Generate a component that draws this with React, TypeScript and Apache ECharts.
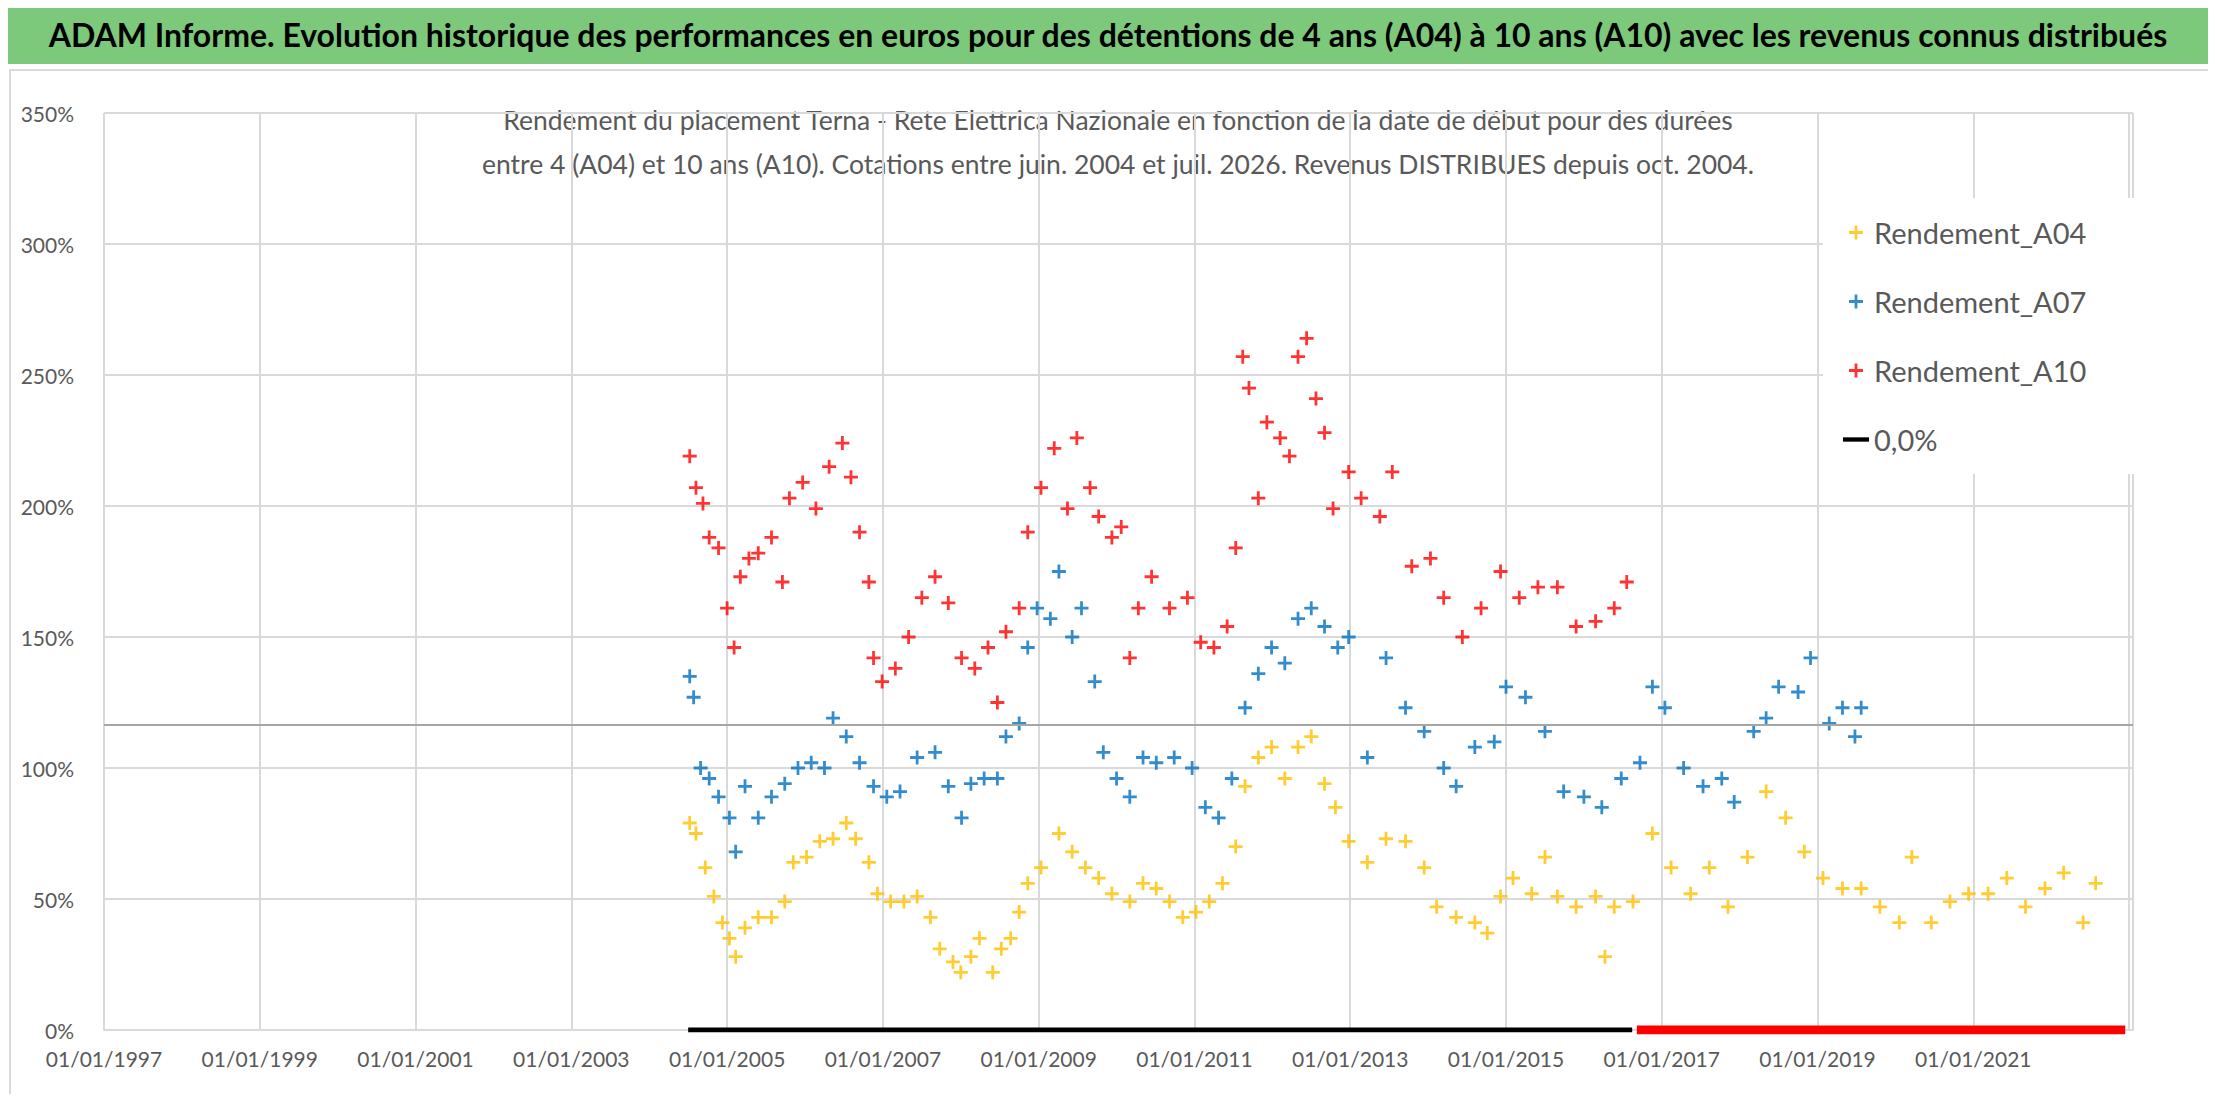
import React, { useEffect, useRef } from "react";
import * as echarts from "echarts";

const TITLE = "ADAM Informe. Evolution historique des performances en euros pour des détentions de 4 ans (A04) à 10 ans (A10) avec les revenus connus distribués";
const SUBTITLE = "Rendement du placement Terna - Rete Elettrica Nazionale en fonction de la date de début pour des durées\nentre 4 (A04) et 10 ans (A10). Cotations entre juin. 2004 et juil. 2026. Revenus DISTRIBUES depuis oct. 2004.";
const yTicks = [0, 50, 100, 150, 200, 250, 300, 350];
const xLabelYears = [1997, 1999, 2001, 2003, 2005, 2007, 2009, 2011, 2013, 2015, 2017, 2019, 2021];
const refLevel = 116.5;

const a04Dates = [2004.52,2004.6,2004.72,2004.83,2004.94,2005.03,2005.11,2005.23,2005.4,2005.57,2005.74,2005.85,2006.02,2006.19,2006.36,2006.53,2006.65,2006.82,2006.93,2007.1,2007.27,2007.44,2007.61,2007.73,2007.9,2008.0,2008.13,2008.24,2008.41,2008.52,2008.64,2008.75,2008.86,2009.03,2009.26,2009.43,2009.6,2009.77,2009.94,2010.17,2010.34,2010.51,2010.68,2010.85,2011.02,2011.19,2011.36,2011.53,2011.65,2011.82,2011.99,2012.16,2012.33,2012.5,2012.67,2012.81,2012.98,2013.22,2013.46,2013.71,2013.95,2014.11,2014.36,2014.6,2014.76,2014.93,2015.09,2015.33,2015.5,2015.66,2015.9,2016.15,2016.27,2016.39,2016.63,2016.88,2017.12,2017.37,2017.61,2017.85,2018.1,2018.34,2018.59,2018.83,2019.07,2019.32,2019.56,2019.8,2020.05,2020.21,2020.46,2020.7,2020.94,2021.19,2021.43,2021.67,2021.92,2022.16,2022.41,2022.57];
const a04Values = [79,75,62,51,41,35,28,39,43,43,49,64,66,72,73,79,73,64,52,49,49,51,43,31,26,22,28,35,22,31,35,45,56,62,75,68,62,58,52,49,56,54,49,43,45,49,56,70,93,104,108,96,108,112,94,85,72,64,73,72,62,47,43,41,37,51,58,52,66,51,47,51,28,47,49,75,62,52,62,47,66,91,81,68,58,54,54,47,41,66,41,49,52,52,58,47,54,60,41,56];

const a07Dates = [2004.52,2004.57,2004.66,2004.77,2004.89,2005.03,2005.11,2005.23,2005.4,2005.57,2005.74,2005.91,2006.08,2006.25,2006.36,2006.53,2006.7,2006.88,2007.05,2007.22,2007.44,2007.67,2007.84,2008.01,2008.13,2008.3,2008.47,2008.58,2008.75,2008.86,2008.98,2009.15,2009.26,2009.43,2009.55,2009.72,2009.83,2010.0,2010.17,2010.34,2010.51,2010.74,2010.97,2011.14,2011.31,2011.48,2011.65,2011.82,2011.99,2012.16,2012.33,2012.5,2012.67,2012.84,2012.98,2013.22,2013.46,2013.71,2013.95,2014.2,2014.36,2014.6,2014.85,2015.0,2015.25,2015.5,2015.74,2016.0,2016.23,2016.48,2016.72,2016.88,2017.04,2017.28,2017.53,2017.77,2017.93,2018.18,2018.34,2018.5,2018.75,2018.91,2019.15,2019.32,2019.48,2019.56];
const a07Values = [135,127,100,96,89,81,68,93,81,89,94,100,102,100,119,112,102,93,89,91,104,106,93,81,94,96,96,112,117,146,161,157,175,150,161,133,106,96,89,104,102,104,100,85,81,96,123,136,146,140,157,161,154,146,150,104,142,123,114,100,93,108,110,131,127,114,91,89,85,96,102,131,123,100,93,96,87,114,119,131,129,142,117,123,112,123];

const a10Dates = [2004.52,2004.6,2004.69,2004.77,2004.89,2005.0,2005.09,2005.17,2005.28,2005.4,2005.57,2005.71,2005.8,2005.97,2006.14,2006.31,2006.48,2006.59,2006.7,2006.82,2006.88,2006.99,2007.16,2007.33,2007.5,2007.67,2007.84,2008.01,2008.18,2008.35,2008.47,2008.58,2008.75,2008.86,2009.03,2009.2,2009.37,2009.49,2009.66,2009.77,2009.94,2010.06,2010.17,2010.28,2010.45,2010.68,2010.91,2011.08,2011.25,2011.42,2011.53,2011.62,2011.7,2011.82,2011.93,2012.1,2012.22,2012.33,2012.44,2012.56,2012.67,2012.78,2012.98,2013.14,2013.38,2013.54,2013.79,2014.03,2014.2,2014.44,2014.68,2014.93,2015.17,2015.41,2015.66,2015.9,2016.15,2016.39,2016.55];
const a10Values = [219,207,201,188,184,161,146,173,180,182,188,171,203,209,199,215,224,211,190,171,142,133,138,150,165,173,163,142,138,146,125,152,161,190,207,222,199,226,207,196,188,192,142,161,173,161,165,148,146,154,184,257,245,203,232,226,219,257,264,241,228,199,213,203,196,213,177,180,165,150,161,175,165,169,169,154,156,161,171];

const zeroBlack = [[2004.5, 0], [2016.62, 0]];
const zeroRed = [[2016.68, 0], [2022.95, 0]];

const PLUS = "path://M4,0H6V4H10V6H6V10H4V6H0V4H4Z";
const LINE_ICON = "path://M0,0H30V5H0Z";
const pts = (d: number[], v: number[]) => d.map((x, i) => [x, v[i]]);

export default function App() {
  const ref = useRef<HTMLDivElement>(null);
  useEffect(() => {
    const chart = echarts.init(ref.current!, undefined, { renderer: "svg" });
    const font = "Lato, Open Sans, sans-serif";
    chart.setOption({
      animation: false,
      backgroundColor: "#fff",
      textStyle: { fontFamily: font },
      graphic: [
        { type: "rect", shape: { x: 0, y: 0, width: 2216, height: 56 }, style: { fill: "#7dc97b" } },
        { type: "rect", shape: { x: 2, y: 62, width: 2200, height: 1034 }, style: { fill: "none", stroke: "#d9d9d9", lineWidth: 2 } },
        { type: "text", x: 1100, y: 10, style: { text: TITLE, font: `bold 32px ${font}`, fill: "#000", align: "center" } },
        { type: "rect", shape: { x: 440, y: 92, width: 1340, height: 84 }, style: { fill: "#fff" } },
        { type: "text", x: 1110, y: 90, style: { text: SUBTITLE, font: `26.5px ${font}`, fill: "#595959", align: "center", lineHeight: 44 } },
      ],
      grid: { left: 96, right: 75, top: 105, bottom: 64 },
      legend: {
        orient: "vertical", left: 1815, top: 190, itemGap: 40, itemWidth: 26, itemHeight: 14,
        backgroundColor: "#fff", padding: [20, 50, 20, 20],
        textStyle: { fontSize: 29, color: "#595959", fontFamily: font },
        data: [
          { name: "Rendement_A04", icon: PLUS },
          { name: "Rendement_A07", icon: PLUS },
          { name: "Rendement_A10", icon: PLUS },
          { name: "0,0%", icon: LINE_ICON, itemStyle: { color: "#000" } },
        ],
      },
      xAxis: {
        type: "value", min: 1997, max: 2023.05, interval: 2,
        axisLine: { show: true, lineStyle: { color: "#d9d9d9" } }, axisTick: { show: false },
        axisLabel: { formatter: (v: number) => (xLabelYears.includes(v) ? "01/01/" + v : ""), fontSize: 21, color: "#595959", margin: 18 },
        splitLine: { show: true, lineStyle: { color: "#d9d9d9", width: 2 } },
      },
      yAxis: {
        type: "value", min: 0, max: 350, interval: 50,
        axisLine: { show: false }, axisTick: { show: false },
        axisLabel: { formatter: (v: number) => (yTicks.includes(v) ? v + "%" : ""), fontSize: 21, color: "#595959", margin: 30 },
        splitLine: { lineStyle: { color: "#d9d9d9", width: 2 } },
      },
      series: [
        { name: "Rendement_A04", type: "scatter", symbol: PLUS, symbolSize: 14, itemStyle: { color: "#ffc000" }, data: pts(a04Dates, a04Values), z: 3,
          markLine: { silent: true, symbol: "none", label: { show: false }, lineStyle: { color: "#a6a6a6", type: "solid", width: 2 }, data: [{ yAxis: refLevel }] } },
        { name: "Rendement_A07", type: "scatter", symbol: PLUS, symbolSize: 14, itemStyle: { color: "#0070c0" }, data: pts(a07Dates, a07Values), z: 3 },
        { name: "Rendement_A10", type: "scatter", symbol: PLUS, symbolSize: 14, itemStyle: { color: "#ff0000" }, data: pts(a10Dates, a10Values), z: 3 },
        { name: "0,0%", type: "line", symbol: "none", lineStyle: { color: "#000", width: 5 }, itemStyle: { color: "#000" }, data: zeroBlack, z: 4 },
        { name: "zeroRed", type: "line", symbol: "none", lineStyle: { color: "#ff0000", width: 9 }, data: zeroRed, z: 4 },
      ],
    });
    return () => chart.dispose();
  }, []);
  return <div ref={ref} style={{ width: 2200, height: 1086 }} />;
}
